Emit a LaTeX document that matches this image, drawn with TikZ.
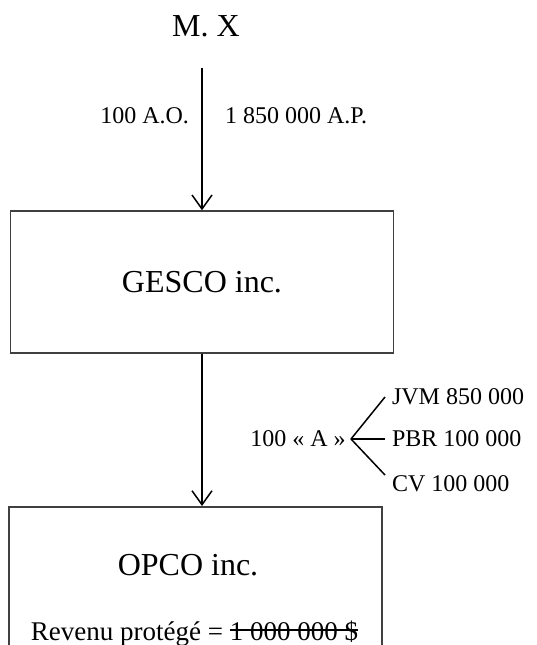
\documentclass[tikz,border=0pt]{standalone}
\usepackage{fontspec}
\setmainfont{Liberation Serif}
\usetikzlibrary{arrows.meta,positioning}
\newsavebox{\boitebarre}
\newcommand{\barre}[1]{\sbox{\boitebarre}{#1}\rlap{\rule[0.75ex]{\wd\boitebarre}{0.7pt}}\usebox{\boitebarre}}

\tikzset{
  boite/.style={draw=black!75, line width=0.75pt},
  fleche/.style={-{Straight Barb[length=7pt,width=10pt]}, line width=0.75pt},
  grand/.style={font=\fontsize{16}{19}\selectfont},
  petit/.style={font=\fontsize{12}{14}\selectfont},
}

\begin{document}
\begin{tikzpicture}[x=0.5pt, y=-0.5pt]
  \useasboundingbox (0,0) rectangle (537,645);
  % actionnaire
  \node[grand] (mx) at (206,26) {M. X};
  \node[petit, anchor=east] (ao) at (196,116) {100 A.O.};
  \node[petit, anchor=west] (ap) at (218,116) {1 850 000 A.P.};

  % GESCO
  \node[boite, grand, minimum width=191.5pt, minimum height=71pt] (gesco) at (202,282) {GESCO inc.};
  \draw[fleche, shorten <=12pt] (mx.south -| gesco.north) -- (gesco.north);

  % OPCO (box runs past the bottom edge)
  \node[boite, anchor=north, minimum width=186.5pt, minimum height=120pt] (opco) at (195.5,506) {};
  \draw[fleche] (gesco.south) -- (gesco.south |- opco.north);
  \node[grand] (opcotxt) at (188,565) {OPCO inc.};
  \node[font=\fontsize{13.5}{16}\selectfont, anchor=base] (revenu) at (194.5,640)
       {Revenu protégé = \barre{1 000 000 \$}};

  % actions A
  \node[petit, anchor=east, inner sep=2.5pt] (cat) at (351,439) {100 « A »};
  \foreach \nom/\y/\lab/\dy in {jvm/397/{JVM 850 000}/0pt, pbr/439/{PBR 100 000}/0pt, cv/484/{CV 100 000}/4.5pt}{
    \node[petit, anchor=west] (\nom) at (385,\y) {\lab};
    \draw[line width=0.75pt] (cat.east) -- ([yshift=\dy]\nom.west);
  }
\end{tikzpicture}
\end{document}
